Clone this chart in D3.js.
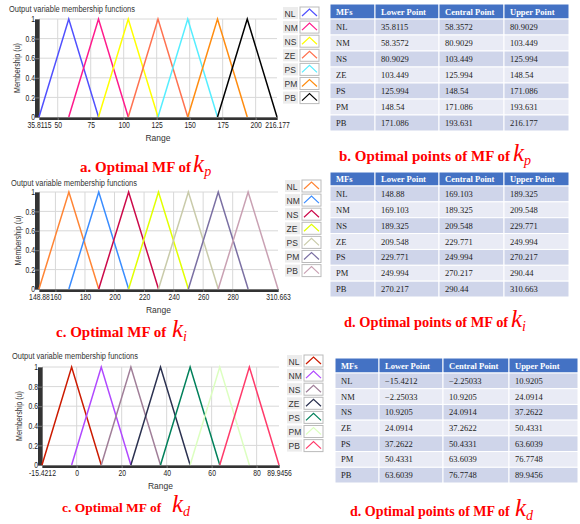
<!DOCTYPE html>
<meta charset="utf-8">
<script src="https://cdn.jsdelivr.net/npm/d3@7"></script>
<style>
body { margin: 0; background: #fff; }
svg { display: block; }
.small { font-family: "Liberation Sans", Arial, sans-serif; font-size: 8.5px; fill: #333; }
.tbl { font-family: "Liberation Serif", "Times New Roman", serif; font-size: 8.5px; }
.cap { font-family: "Liberation Serif", "Times New Roman", serif; font-weight: bold; fill: #f00; }
.capk { font-family: "Liberation Serif", "Times New Roman", serif; font-style: italic; fill: #f00; }
</style>
<svg width="580" height="524"></svg>
<script>

// names of the membership functions
var mfNames = ["NL", "NM", "NS", "ZE", "PS", "PM", "PB"];
var tableHead = ["MFs", "Lower Point", "Central Point", "Upper Point"];

// [lower, central, upper] for each MF
var kpPoints = [
    [35.8115, 58.3572, 80.9029],
    [58.3572, 80.9029, 103.449],
    [80.9029, 103.449, 125.994],
    [103.449, 125.994, 148.54],
    [125.994, 148.54, 171.086],
    [148.54, 171.086, 193.631],
    [171.086, 193.631, 216.177]
];
var kiPoints = [
    [148.88, 169.103, 189.325],
    [169.103, 189.325, 209.548],
    [189.325, 209.548, 229.771],
    [209.548, 229.771, 249.994],
    [229.771, 249.994, 270.217],
    [249.994, 270.217, 290.44],
    [270.217, 290.44, 310.663]
];
var kdPoints = [
    [-15.4212, -2.25033, 10.9205],
    [-2.25033, 10.9205, 24.0914],
    [10.9205, 24.0914, 37.2622],
    [24.0914, 37.2622, 50.4331],
    [37.2622, 50.4331, 63.6039],
    [50.4331, 63.6039, 76.7748],
    [63.6039, 76.7748, 89.9456]
];

// axis ticks
var kpTicks = [35.8115, 50, 75, 100, 125, 150, 175, 200, 216.177];
var kiTicks = [148.88, 160, 180, 200, 220, 240, 260, 280, 310.663];
var kdTicks = [-15.4212, 0, 20, 40, 60, 80, 89.9456];
var yTicks = [0, 0.2, 0.4, 0.6, 0.8, 1];

var kpColors = ["#5050ff", "#ff1a8c", "#ffff00", "#ff7250", "#55eeff", "#ff8c10", "#000000"];
var kiColors = ["#ff8535", "#3a8cff", "#cc0a4a", "#e2ff00", "#c9cbaa", "#7b70a3", "#c9a1b3"];
var kdColors = ["#cc1a00", "#b048ff", "#a07e98", "#2b3150", "#00805a", "#dcffc0", "#ff3a6a"];

var svg = d3.select("svg");
var fmt = d3.format(".6~g");

// 一个隶属度函数图
function drawMF(cfg, points, ticks, colors) {
    var g = svg.append("g");
    var x = d3.scaleLinear().domain([ticks[0], ticks[ticks.length - 1]]).range([cfg.x0, cfg.x1]);
    var y = d3.scaleLinear().domain([0, 1]).range([cfg.y1, cfg.y0]);

    // grid
    g.append("g").selectAll("line")
        .data(ticks.slice(1, -1))
        .enter().append("line")
        .attr("x1", function(d) { return x(d); })
        .attr("x2", function(d) { return x(d); })
        .attr("y1", cfg.y0).attr("y2", cfg.y1)
        .attr("stroke", "#d8d8d8");
    g.append("g").selectAll("line")
        .data(yTicks.slice(1))
        .enter().append("line")
        .attr("x1", cfg.x0).attr("x2", cfg.x1)
        .attr("y1", function(d) { return y(d); })
        .attr("y2", function(d) { return y(d); })
        .attr("stroke", "#d8d8d8");

    var ya = g.append("g")
        .attr("transform", "translate(" + cfg.x0 + ",0)")
        .call(d3.axisLeft(y).tickValues(yTicks).tickFormat(String).tickSize(4).tickPadding(1));
    var xa = g.append("g")
        .attr("transform", "translate(0," + cfg.y1 + ")")
        .call(d3.axisBottom(x).tickValues(ticks).tickFormat(String).tickSize(3).tickPadding(2));
    [ya, xa].forEach(function(a) {
        a.attr("font-family", null).attr("font-size", null).attr("class", "small");
        a.selectAll("path, line").attr("stroke", "#777");
        // 字体压窄一点
        a.selectAll("text").attr("fill", "#222").attr("transform", "scale(0.8,1)");
    });

    // triangles
    var line = d3.line()
        .x(function(d) { return x(d[0]); })
        .y(function(d) { return y(d[1]); });
    g.append("g").selectAll("path")
        .data(points)
        .enter().append("path")
        .attr("d", function(p) { return line([[p[0], 0], [p[1], 1], [p[2], 0]]); })
        .attr("fill", "none")
        .attr("stroke", function(d, i) { return colors[i]; })
        .attr("stroke-width", 1.5);

    g.append("text").attr("class", "small")
        .attr("x", cfg.titleX).attr("y", cfg.titleY)
        .attr("textLength", 126).attr("lengthAdjust", "spacingAndGlyphs")
        .text("Output variable membership functions");
    g.append("text").attr("class", "small")
        .attr("text-anchor", "middle")
        .attr("textLength", 50).attr("lengthAdjust", "spacingAndGlyphs")
        .attr("transform", "translate(" + cfg.ylabX + "," + ((cfg.y0 + cfg.y1) / 2) + ") rotate(-90)")
        .text("Membership (u)");
    g.append("text").attr("class", "small")
        .attr("text-anchor", "middle")
        .attr("x", (cfg.x0 + cfg.x1) / 2).attr("y", cfg.y1 + 24)
        .text("Range");

    // legend
    var lg = g.append("g").selectAll("g")
        .data(mfNames)
        .enter().append("g")
        .attr("transform", function(d, i) { return "translate(0," + (cfg.legY + i * cfg.legStep) + ")"; });
    lg.append("rect")
        .attr("x", cfg.legX).attr("y", -6).attr("width", 15).attr("height", 12)
        .attr("fill", "#ececec");
    lg.append("text").attr("class", "small")
        .attr("x", cfg.legX + 1.5).attr("y", 3.5)
        .text(function(d) { return d; });
    lg.append("rect")
        .attr("x", cfg.iconX).attr("y", -6).attr("width", 19).attr("height", 12)
        .attr("fill", "#fff").attr("stroke", "#bbb");
    lg.append("path")
        .attr("d", "M" + (cfg.iconX + 2) + ",3L" + (cfg.iconX + 9.5) + ",-4L" + (cfg.iconX + 17) + ",3")
        .attr("fill", "none")
        .attr("stroke", function(d, i) { return colors[i]; })
        .attr("stroke-width", 1.2);
}

// 表格
function drawTable(cfg, points) {
    var g = svg.append("g").attr("class", "tbl");
    var cols = cfg.cols;
    var rowH = (cfg.bottom - cfg.headBottom) / points.length;
    var rows = [tableHead].concat(points.map(function(p, i) {
        return [mfNames[i]].concat(p.map(fmt));
    }));
    rows.forEach(function(r, ri) {
        var top = ri === 0 ? cfg.top : cfg.headBottom + (ri - 1) * rowH;
        var h = ri === 0 ? cfg.headBottom - cfg.top : rowH;
        var fill = ri === 0 ? "#4472c4" : (ri % 2 === 1 ? "#cfd5ea" : "#e9ebf5");
        r.forEach(function(v, ci) {
            g.append("rect")
                .attr("x", cols[ci]).attr("y", top)
                .attr("width", cols[ci + 1] - cols[ci]).attr("height", h)
                .attr("fill", fill).attr("stroke", "#fff").attr("stroke-width", 1);
            g.append("text")
                .attr("x", cols[ci] + 6).attr("y", top + h / 2 + 3)
                .attr("fill", ri === 0 ? "#fff" : "#222")
                .attr("font-weight", ri === 0 ? "bold" : null)
                .text(v);
        });
    });
}

// 图注
function caption(x, y, size, txt, kx, sub) {
    var c = svg.append("text").attr("class", "cap")
        .attr("x", x).attr("y", y)
        .style("font-size", size + "px")
        .text(txt);
    var end = x + c.node().getComputedTextLength() + 2;
    var t = svg.append("text").attr("class", "capk").attr("x", Math.max(kx, end)).attr("y", y);
    t.append("tspan").style("font-size", "25px").text("k");
    t.append("tspan").style("font-size", "14px").attr("dy", 4).text(sub);
}

drawMF({x0: 39, x1: 277, y0: 19, y1: 117, titleX: 9, titleY: 12, ylabX: 20, legX: 283, iconX: 300, legY: 13, legStep: 14.1},
    kpPoints, kpTicks, kpColors);
drawMF({x0: 39, x1: 278, y0: 192, y1: 289, titleX: 11, titleY: 186, ylabX: 21, legX: 285, iconX: 302, legY: 186, legStep: 14.1},
    kiPoints, kiTicks, kiColors);
drawMF({x0: 42, x1: 279, y0: 367, y1: 465, titleX: 12, titleY: 359, ylabX: 22, legX: 287, iconX: 304, legY: 361, legStep: 14.1},
    kdPoints, kdTicks, kdColors);

drawTable({cols: [330, 375, 439, 504, 569], top: 4, headBottom: 19, bottom: 131}, kpPoints);
drawTable({cols: [330, 375, 439, 504, 569], top: 172, headBottom: 186, bottom: 297}, kiPoints);
drawTable({cols: [335, 379, 443, 509, 578], top: 358, headBottom: 373, bottom: 483}, kdPoints);

caption(80, 172, 15, "a. Optimal MF of", 193, "p");
caption(339, 161, 15, "b. Optimal points of MF of", 513, "p");
caption(56, 337, 15, "c. Optimal MF of", 172, "i");
caption(344, 327, 14.4, "d. Optimal points of MF of", 511, "i");
caption(62, 512, 13.5, "c. Optimal MF of", 172, "d");
caption(350, 516, 14, "d. Optimal points of MF of", 515, "d");

</script>
